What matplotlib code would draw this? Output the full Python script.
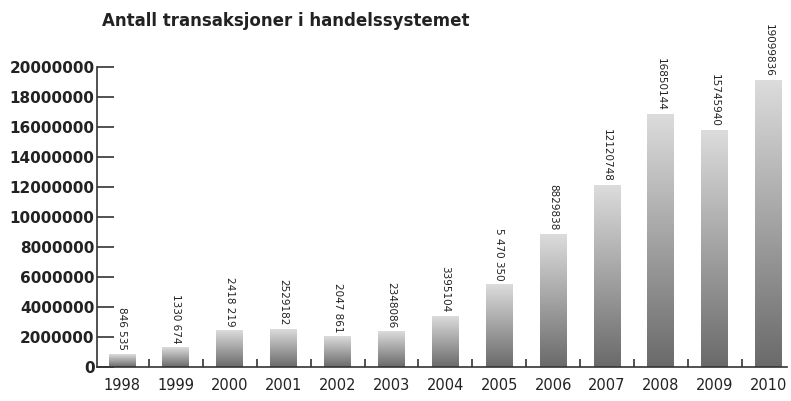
import numpy as np
import matplotlib.pyplot as plt
from matplotlib.colors import LinearSegmentedColormap

years = ['1998', '1999', '2000', '2001', '2002', '2003', '2004',
         '2005', '2006', '2007', '2008', '2009', '2010']
values = [846535, 1330674, 2418219, 2529182, 2047861, 2348086, 3395104,
          5470350, 8829838, 12120748, 16850144, 15745940, 19099836]
labels = ['846 535', '1330 674', '2418 219', '2529182', '2047 861', '2348086', '3395104',
          '5 470 350', '8829838', '12120748', '16850144', '15745940', '19099836']
yticks = [0, 2000000, 4000000, 6000000, 8000000, 10000000,
          12000000, 14000000, 16000000, 18000000, 20000000]

fig = plt.figure(figsize=(7.91, 4.01), dpi=100)
ax = fig.add_axes([0.123, 0.085, 0.872, 0.748])

x = np.arange(len(years))
w = 0.5
cmap = LinearSegmentedColormap.from_list('g', ['#6a6a6a', '#dcdcdc'])
grad = np.linspace(0, 1, 256).reshape(-1, 1)

# gradient bars (light top, dark bottom)
for xi, v, lab in zip(x, values, labels):
    ax.imshow(grad, cmap=cmap, origin='lower', aspect='auto',
              extent=(xi - w / 2, xi + w / 2, 0, v), zorder=2)
    ax.text(xi, v + 250000, lab, rotation=270, ha='center', va='bottom',
            fontsize=7.5, color='#222222', clip_on=False)

ax.set_xlim(-0.46, 12.34)
ax.set_ylim(0, 20000000)

ax.set_yticks(yticks)
ax.set_yticklabels([str(t) for t in yticks], fontsize=11, color='#222222',
                   fontweight='semibold')
ax.tick_params(axis='y', direction='in', length=12, width=1.2, pad=2, color='#333333')

ax.set_xticks(x)
ax.set_xticklabels(years, fontsize=10.5, color='#222222')
ax.tick_params(axis='x', length=0, pad=8)
# small ticks between the bars
ax.set_xticks(x[:-1] + 0.5, minor=True)
ax.tick_params(axis='x', which='minor', direction='in', length=6, width=1.2, color='#333333')

for s in ['top', 'right']:
    ax.spines[s].set_visible(False)
for s in ['left', 'bottom']:
    ax.spines[s].set_linewidth(1.2)
    ax.spines[s].set_color('#333333')

fig.text(0.129, 0.935, 'Antall transaksjoner i handelssystemet',
         fontsize=12, fontweight='bold', color='#222222')

plt.savefig('out.png', dpi=100)
